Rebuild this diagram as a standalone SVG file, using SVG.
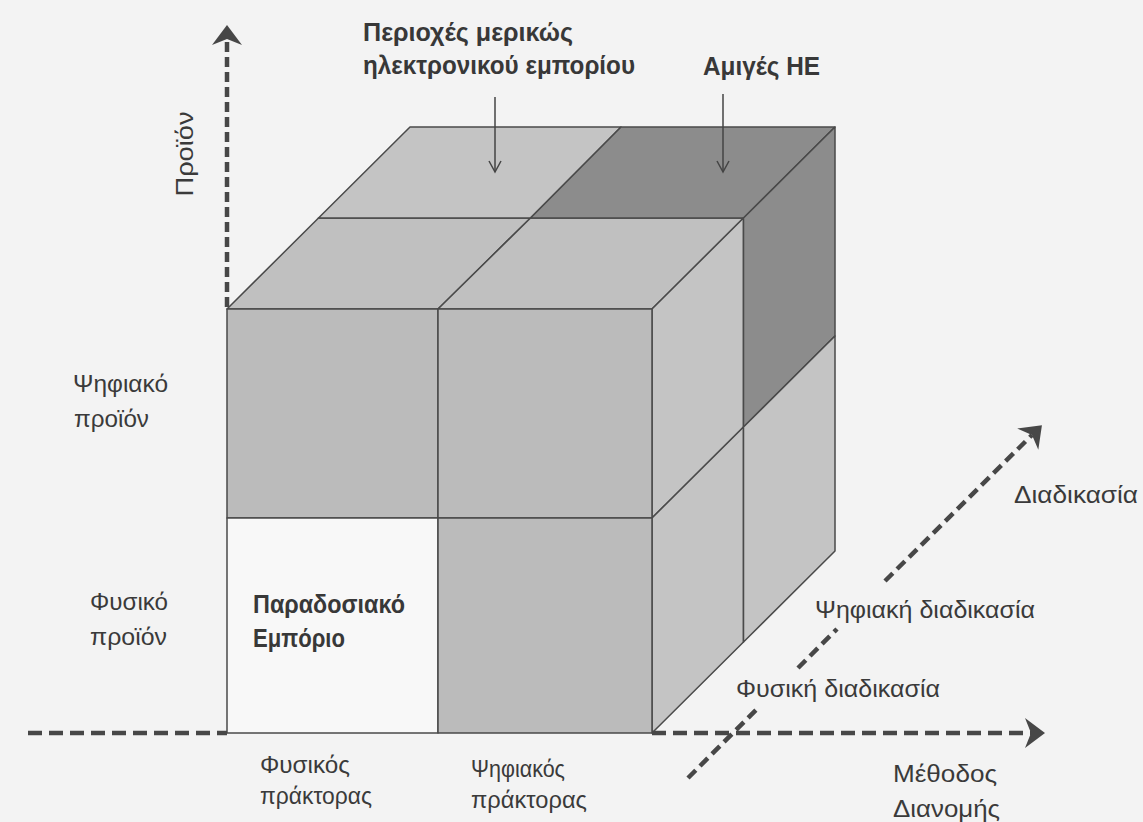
<svg xmlns="http://www.w3.org/2000/svg" width="1143" height="822" viewBox="0 0 1143 822">
<style>
.bg{fill:#f3f3f3}
.edge{stroke:#4a4a4a;stroke-width:1.5;stroke-linejoin:round}
.lt{fill:#c0c0c0}
.fr{fill:#bbbbbb}
.rt{fill:#c4c4c4}
.dk{fill:#8c8c8c}
.wh{fill:#f8f8f8}
.ax{fill:none;stroke:#474747;stroke-width:4.5}
.ptr{fill:none;stroke:#444;stroke-width:1.5}
.lab{font-family:"Liberation Sans",Arial,sans-serif;font-size:23px;fill:#3a3a3a}
.bold{font-family:"Liberation Sans",Arial,sans-serif;font-size:26px;font-weight:bold;fill:#383838}
</style>
<defs>
<marker id="ah" markerUnits="userSpaceOnUse" viewBox="-20 -20 40 40" markerWidth="40" markerHeight="40" refX="0" refY="0" orient="auto" overflow="visible">
<path d="M14,0 L-6,-15 L0,0 L-6,15 Z" fill="#474747"/>
</marker>
<marker id="vh" markerUnits="userSpaceOnUse" viewBox="-10 -10 20 20" markerWidth="20" markerHeight="20" refX="0" refY="0" orient="auto" overflow="visible">
<path d="M-11,-6 L0,0 L-11,6" fill="none" stroke="#444" stroke-width="1.5"/>
</marker>
</defs>
<rect class="bg" x="0" y="0" width="1143" height="822"/>

<g id="cube">
<g id="top-face">
<polygon class="lt edge" points="227,309 438,309 530.5,218 318.5,218"/>
<polygon class="lt edge" points="438,309 652,309 743.5,218 530.5,218"/>
<polygon class="rt edge" points="318.5,218 530.5,218 621,127 410,127"/>
<polygon class="dk edge" points="530.5,218 743.5,218 835,127 621,127"/>
</g>
<g id="right-face">
<polygon class="rt edge" points="652,309 743.5,218 743.5,427 652,518"/>
<polygon class="dk edge" points="743.5,218 835,127 835,336 743.5,427"/>
<polygon class="rt edge" points="652,518 743.5,427 743.5,642 652,733"/>
<polygon class="rt edge" points="743.5,427 835,336 835,551 743.5,642"/>
</g>
<g id="front-face">
<rect class="fr edge" x="227" y="309" width="211" height="209"/>
<rect class="fr edge" x="438" y="309" width="214" height="209"/>
<rect class="wh edge" x="227" y="518" width="211" height="215"/>
<rect class="fr edge" x="438" y="518" width="214" height="215"/>
</g>
</g>

<g id="connectors">
<line class="ax" x1="227" y1="307" x2="227" y2="39" stroke-dasharray="10 5" marker-end="url(#ah)"/>
<line class="ax" x1="28" y1="733" x2="227" y2="733" stroke-dasharray="14 7"/>
<line class="ax" x1="652" y1="733" x2="1031" y2="733" stroke-dasharray="14 7" marker-end="url(#ah)"/>
<line class="ax" x1="688" y1="778" x2="760" y2="706" stroke-dasharray="11 6"/>
<line class="ax" x1="798" y1="668" x2="837" y2="629" stroke-dasharray="11 6"/>
<line class="ax" x1="885" y1="581" x2="1032" y2="435" stroke-dasharray="11 6" marker-end="url(#ah)"/>
<line class="ptr" x1="495" y1="97" x2="495" y2="172" marker-end="url(#vh)"/>
<line class="ptr" x1="723" y1="94" x2="723" y2="172" marker-end="url(#vh)"/>
</g>

<g id="labels">
<text class="bold" x="363" y="41" textLength="210" lengthAdjust="spacingAndGlyphs">Περιοχές μερικώς</text>
<text class="bold" x="363" y="74" textLength="272" lengthAdjust="spacingAndGlyphs">ηλεκτρονικού εμπορίου</text>
<text class="bold" x="703" y="75" textLength="117" lengthAdjust="spacingAndGlyphs">Αμιγές ΗΕ</text>
<text class="lab" transform="translate(193,154) rotate(-90)" text-anchor="middle" font-size="21" textLength="85" lengthAdjust="spacingAndGlyphs">Προϊόν</text>
<text class="lab" x="73" y="392" textLength="95" lengthAdjust="spacingAndGlyphs">Ψηφιακό</text>
<text class="lab" x="74" y="427" textLength="75" lengthAdjust="spacingAndGlyphs">προϊόν</text>
<text class="lab" x="90" y="610" textLength="78" lengthAdjust="spacingAndGlyphs">Φυσικό</text>
<text class="lab" x="90" y="645" textLength="77" lengthAdjust="spacingAndGlyphs">προϊόν</text>
<text class="bold" x="253" y="613" font-size="25" textLength="152" lengthAdjust="spacingAndGlyphs">Παραδοσιακό</text>
<text class="bold" x="253" y="647" font-size="25" textLength="92" lengthAdjust="spacingAndGlyphs">Εμπόριο</text>
<text class="lab" x="260" y="773" textLength="90" lengthAdjust="spacingAndGlyphs">Φυσικός</text>
<text class="lab" x="260" y="804" textLength="112" lengthAdjust="spacingAndGlyphs">πράκτορας</text>
<text class="lab" x="471" y="777" textLength="94" lengthAdjust="spacingAndGlyphs">Ψηφιακός</text>
<text class="lab" x="471" y="808" textLength="116" lengthAdjust="spacingAndGlyphs">πράκτορας</text>
<text class="lab" x="893" y="782" textLength="104" lengthAdjust="spacingAndGlyphs">Μέθοδος</text>
<text class="lab" x="893" y="817" textLength="107" lengthAdjust="spacingAndGlyphs">Διανομής</text>
<text class="lab" x="1014" y="503" textLength="124" lengthAdjust="spacingAndGlyphs">Διαδικασία</text>
<text class="lab" x="815" y="618" textLength="220" lengthAdjust="spacingAndGlyphs">Ψηφιακή διαδικασία</text>
<text class="lab" x="736" y="697" textLength="204" lengthAdjust="spacingAndGlyphs">Φυσική διαδικασία</text>
</g>
</svg>
